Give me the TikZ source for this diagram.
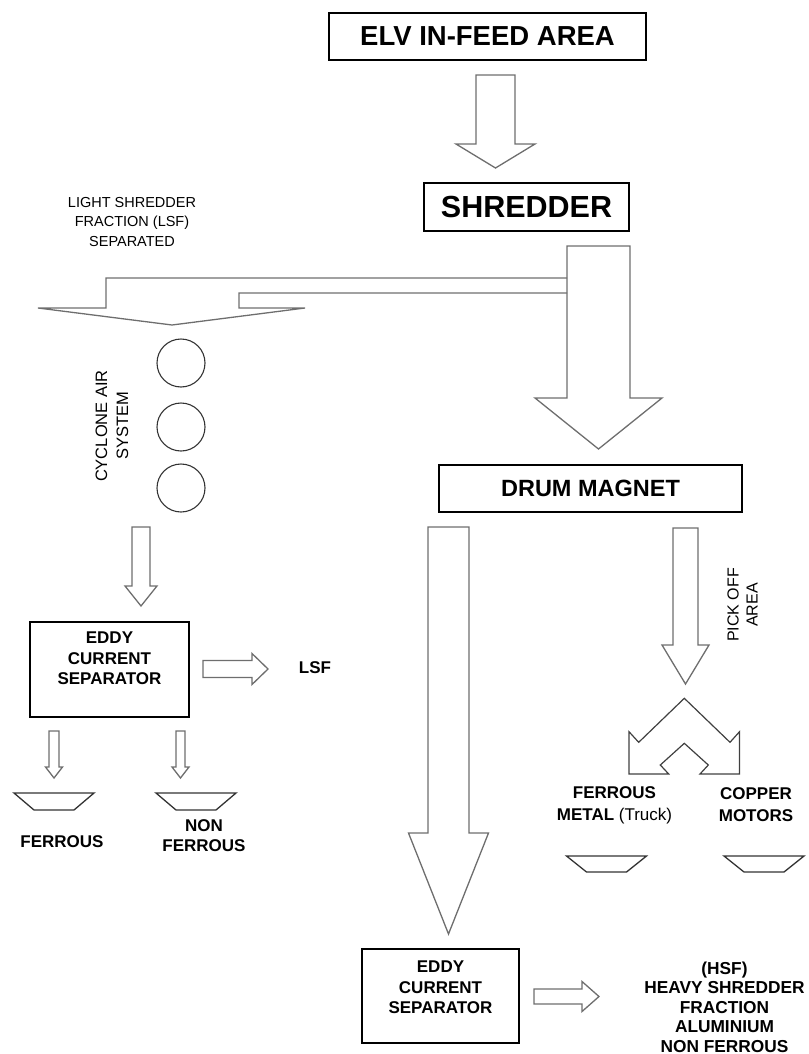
\documentclass[tikz,border=0pt]{standalone}
\usepackage{fontspec}
\setmainfont{Liberation Sans}
\usepackage{tikz}
\usetikzlibrary{positioning,calc}
\definecolor{arrgray}{RGB}{110,110,110}
\tikzset{
  procbox/.style={draw=black, line width=1.3pt, fill=white, inner sep=0pt},
  blockarr/.style={draw=arrgray, line width=1.3pt, fill=white, line join=miter},
  splitarr/.style={draw=black!75, line width=1.2pt, line join=miter},
  trayline/.style={draw=black!80, line width=1.3pt, line join=miter},
  cyc/.style={circle, draw=black!80, line width=1.1pt, minimum size=48pt, inner sep=0pt},
  bname/.style={font=\bfseries\fontsize{17}{20.5}\selectfont, align=center, inner sep=0pt},
  note/.style={font=\fontsize{14.5}{19.5}\selectfont, align=center, inner sep=0pt},
}
% down block arrow: x centre, y top, half shaft, y head base, half head, y tip
\newcommand{\downarr}[6]{%
  \draw[blockarr] (#1-#3,#2) -- (#1+#3,#2) -- (#1+#3,#4) -- (#1+#5,#4) -- (#1,#6)
    -- (#1-#5,#4) -- (#1-#3,#4) -- cycle;}
% right block arrow: y centre, x left, half shaft, x head base, half head, x tip
\newcommand{\rightarr}[6]{%
  \draw[blockarr] (#2,#1-#3) -- (#4,#1-#3) -- (#4,#1-#5) -- (#6,#1) -- (#4,#1+#5)
    -- (#4,#1+#3) -- (#2,#1+#3) -- cycle;}
% collecting tray: x centre, y top, y bottom
\newcommand{\tray}[3]{%
  \draw[trayline] (#1-40,#2) -- (#1+40,#2) -- (#1+20,#3) -- (#1-20,#3) -- cycle;}

\begin{document}
\begin{tikzpicture}[x=1pt, y=-1pt]
  \useasboundingbox (0,0) rectangle (808,1054);

  % main line
  \node[procbox, minimum width=317pt, minimum height=47pt,
        font=\bfseries\fontsize{27.5}{30}\selectfont] (elv) at (487.5,36.5) {ELV IN-FEED AREA};
  \downarr{495.5}{75}{19.5}{144}{39.5}{168}
  \node[procbox, minimum width=205pt, minimum height=48pt,
        font=\bfseries\fontsize{30.5}{33}\selectfont] (shred) at (526.5,207) {SHREDDER};

  \downarr{598.5}{246}{31.5}{398}{63.5}{449}
  \draw[blockarr, fill=none] (567,278) -- (106,278) -- (106,308) -- (38,308) -- (172,325)
    -- (305,308) -- (239,308) -- (239,293) -- (567,293);
  \node[note] (lsflbl) at (132,222) {LIGHT SHREDDER\\FRACTION (LSF)\\SEPARATED};

  % light fraction
  \node[cyc] (cyc1) at (181,363) {};
  \node[cyc] (cyc2) at (181,427) {};
  \node[cyc] (cyc3) at (181,488) {};
  \node[note, rotate=90, font=\fontsize{16.5}{21}\selectfont] (cyctxt) at (112,426) {CYCLONE AIR\\SYSTEM};

  \downarr{141}{527}{9}{586}{16}{606}
  \node[procbox, minimum width=159pt, minimum height=95pt] (ecs1) at (109.5,669.5) {};
  \node[bname] (ecs1txt) at (109.5,658.5) {EDDY\\CURRENT\\SEPARATOR};
  \rightarr{669}{203}{8.5}{252}{15.5}{268}
  \node[bname] (lsf) at (315,668) {LSF};

  \downarr{54}{731}{5}{767}{8.5}{778}
  \downarr{180.5}{731}{4.5}{767}{8.5}{778}
  \tray{54}{793}{810}
  \tray{196}{793}{810}
  \node[bname] (fer1) at (62,842) {FERROUS};
  \node[bname, font=\bfseries\fontsize{17}{20}\selectfont] (nonfer1) at (204,836) {NON\\FERROUS};

  % heavy fraction
  \node[procbox, minimum width=303pt, minimum height=47pt,
        font=\bfseries\fontsize{23.5}{26}\selectfont] (drum) at (590.5,488.5) {DRUM MAGNET};

  \downarr{448.5}{527}{20.5}{833}{40}{934}
  \downarr{685.5}{528}{12.5}{645}{23.5}{684}
  \node[note, rotate=90, font=\fontsize{16}{19}\selectfont] (pickoff) at (742.5,605) {PICK OFF\\AREA};

  \draw[splitarr] (684.3,698.3) -- (730,742.3) -- (739.5,731.7) -- (739.5,774) -- (700,774)
    -- (708.3,765) -- (684.3,743.3) -- (660.3,765) -- (668.7,774) -- (629,774)
    -- (629,731.7) -- (638.7,742.3) -- cycle;

  \node[bname, font=\bfseries\fontsize{17}{22}\selectfont] (fermet) at (614.5,805)
    {FERROUS\\METAL {\mdseries(Truck)}};
  \node[bname, font=\bfseries\fontsize{17}{22}\selectfont] (copper) at (756,805) {COPPER\\MOTORS};
  \tray{606.5}{856}{872}
  \tray{764}{856}{872}

  \node[procbox, minimum width=157pt, minimum height=94pt] (ecs2) at (440.5,996) {};
  \node[bname] (ecs2txt) at (440.5,987.5) {EDDY\\CURRENT\\SEPARATOR};
  \rightarr{996.5}{534}{7.5}{582}{15}{599}
  \node[bname, font=\bfseries\fontsize{17.3}{19.5}\selectfont] (hsf) at (724.5,1007)
    {(HSF)\\HEAVY SHREDDER\\FRACTION\\ALUMINIUM\\NON FERROUS};
\end{tikzpicture}
\end{document}
